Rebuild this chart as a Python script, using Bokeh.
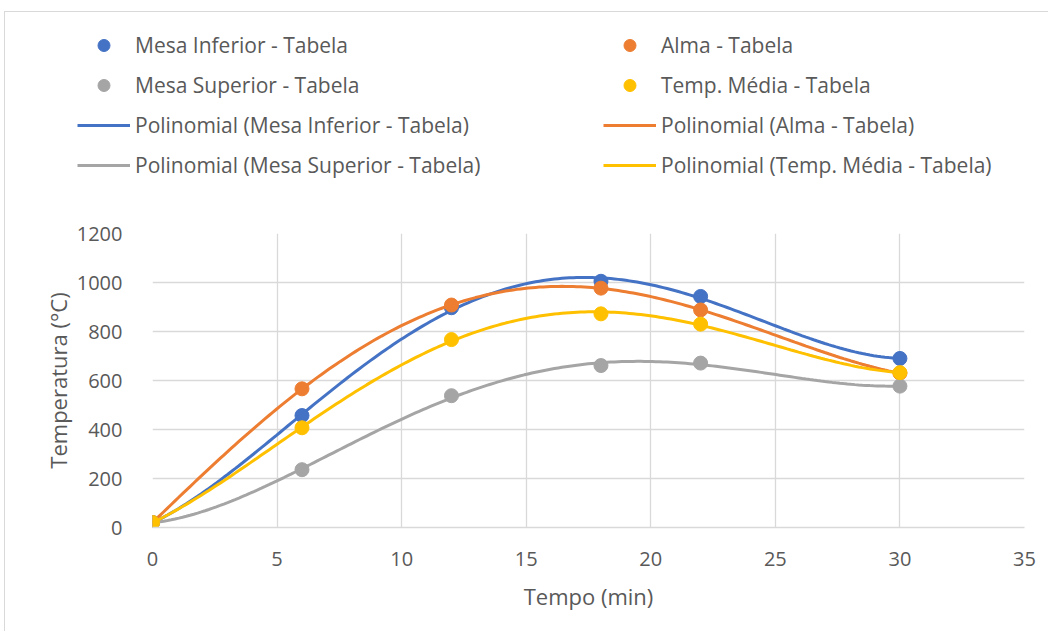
import numpy as np
from bokeh.plotting import figure
from bokeh.layouts import column, row
from bokeh.models import Legend, LegendItem, FixedTicker, Range1d
from bokeh.embed import file_html
from bokeh.resources import INLINE

tempo = [0, 6, 12, 18, 22, 30]
mesa_inferior = [20, 457, 897, 1005, 943, 690]
alma = [20, 566, 908, 977, 888, 630]
mesa_superior = [20, 236, 538, 661, 671, 577]
temp_media = [20, 407, 767, 872, 830, 632]

series = [
    ("Mesa Inferior - Tabela", mesa_inferior, "#4472C4"),
    ("Alma - Tabela", alma, "#ED7D31"),
    ("Mesa Superior - Tabela", mesa_superior, "#A5A5A5"),
    ("Temp. Média - Tabela", temp_media, "#FFC000"),
]
x_ticks = [0, 5, 10, 15, 20, 25, 30, 35]
y_ticks = [0, 200, 400, 600, 800, 1000, 1200]
poly_order = 4

FONT = "Open Sans"
TXT = "#595959"
GRID = "#d9d9d9"

OX, OY = 5, 12   # content offset inside the light chart border

# ---------- main chart ----------
p = figure(width=1048 - OX, height=410, output_backend="svg", toolbar_location=None,
           x_range=Range1d(0, 35), y_range=Range1d(0, 1200),
           min_border_left=152 - OX, min_border_right=24, min_border_top=12, min_border_bottom=104)
p.outline_line_color = None

p.xaxis.ticker = FixedTicker(ticks=x_ticks)
p.yaxis.ticker = FixedTicker(ticks=y_ticks)
p.xgrid.ticker = FixedTicker(ticks=x_ticks)
p.ygrid.ticker = FixedTicker(ticks=y_ticks)
p.grid.grid_line_color = GRID
p.grid.grid_line_width = 1.3

for ax in (p.xaxis, p.yaxis):
    ax.major_tick_line_color = None
    ax.minor_tick_line_color = None
    ax.major_label_text_font = FONT
    ax.major_label_text_font_size = "20px"
    ax.major_label_text_color = TXT
    ax.axis_label_text_font = FONT
    ax.axis_label_text_font_size = "22px"
    ax.axis_label_text_color = TXT
    ax.axis_label_text_font_style = "normal"
p.xaxis.axis_line_color = GRID
p.xaxis.axis_line_width = 1.5
p.yaxis.axis_line_color = None
p.xaxis.axis_label = "Tempo (min)"
p.yaxis.axis_label = "Temperatura (°C)"
p.xaxis.major_label_standoff = 18
p.yaxis.major_label_standoff = 24
p.xaxis.axis_label_standoff = 12
p.yaxis.axis_label_standoff = 1

xs = np.linspace(min(tempo), max(tempo), 200)
fits = {}
for name, vals, color in series:
    coef = np.polyfit(tempo, vals, poly_order)
    fits[name] = np.polyval(coef, xs)
    p.line(xs, fits[name], line_color=color, line_width=3)
    p.scatter(tempo, vals, size=14, fill_color=color, line_color=color)

# ---------- legend panel (its view range lies below the data, so only the legend shows) ----------
lg_h = 233 - 12 - OY
lg = figure(width=1048 - OX, height=lg_h, output_backend="svg", toolbar_location=None,
            x_range=Range1d(0, 35), y_range=Range1d(-2, -1),
            x_axis_type=None, y_axis_type=None,
            min_border_left=0, min_border_right=0, min_border_top=0, min_border_bottom=0)
lg.outline_line_color = None
lg.grid.visible = False

marker_items = {}
line_items = {}
for name, vals, color in series:
    sc = lg.scatter(tempo, vals, size=14, fill_color=color, line_color=color)
    ln = lg.line(xs, fits[name], line_color=color, line_width=3)
    marker_items[name] = LegendItem(label=name, renderers=[sc])
    line_items[name] = LegendItem(label="Polinomial (" + name + ")", renderers=[ln])

names = [s[0] for s in series]
# column-major fill: left column first, then right column
order = [marker_items[names[0]], marker_items[names[2]], line_items[names[0]], line_items[names[2]],
         marker_items[names[1]], marker_items[names[3]], line_items[names[1]], line_items[names[3]]]

legend_bottom = 180 - OY
legend = Legend(items=order, ncols=2, location=(77 - OX, lg_h - legend_bottom),
                glyph_width=53, glyph_height=30, label_standoff=5,
                label_width=458, spacing=10, padding=0, margin=0,
                border_line_color=None, background_fill_alpha=0,
                label_text_font=FONT, label_text_font_size="21px",
                label_text_color=TXT)
lg.add_layout(legend, "center")

layout = column(row(lg), p, spacing=0,
                styles={"border-left": "1px solid #d9d9d9", "border-top": "1px solid #d9d9d9",
                        "margin-left": "4px", "margin-top": "11px"})
open("out.html", "w").write(file_html(layout, INLINE))
